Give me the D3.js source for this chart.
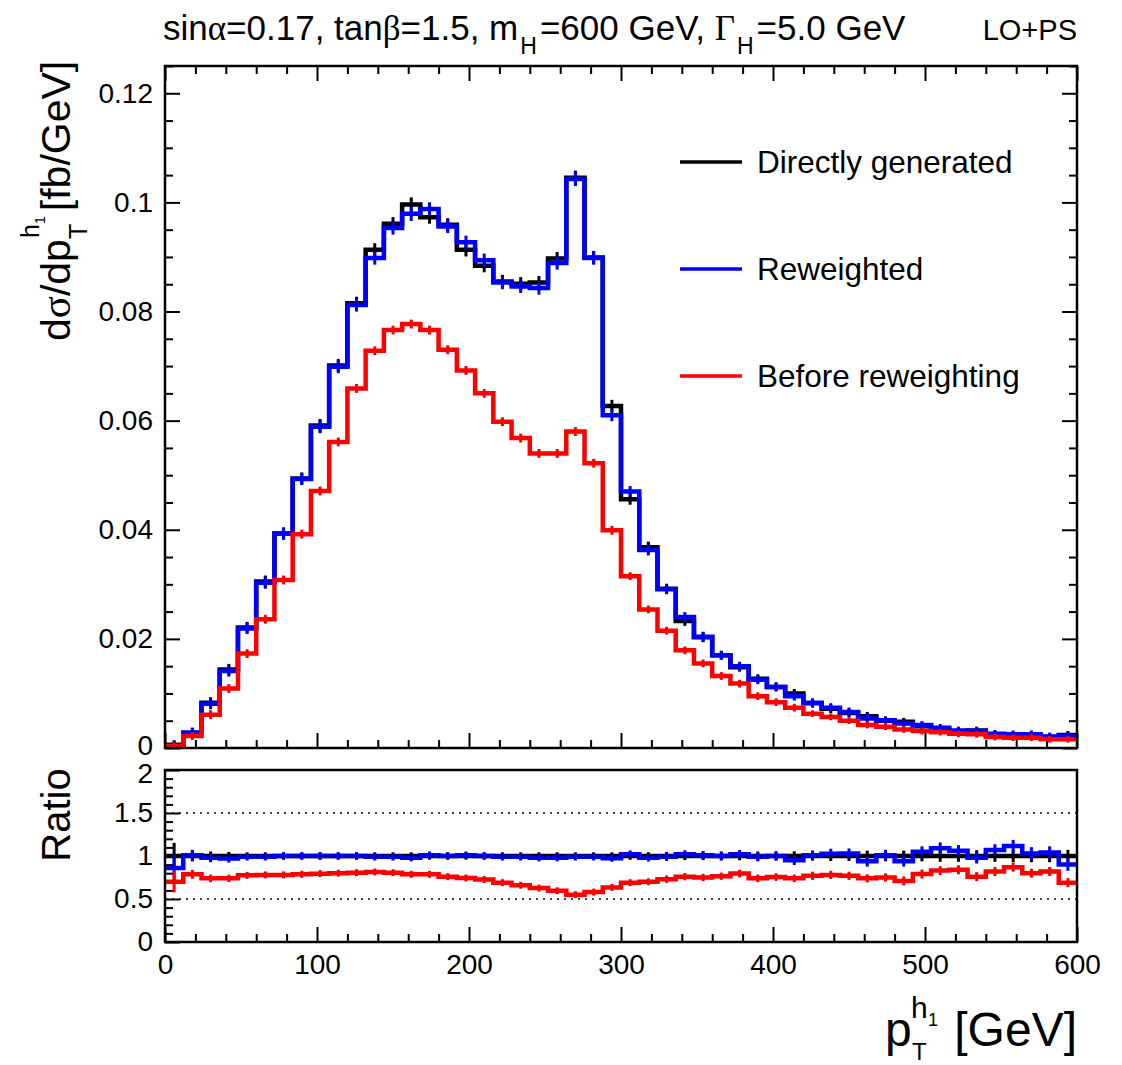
<!DOCTYPE html>
<html>
<head>
<meta charset="utf-8">
<script src="https://cdn.jsdelivr.net/npm/d3@7"></script>
<style>
  html, body { margin: 0; padding: 0; background: #fff; }
  svg { display: block; font-family: "Liberation Sans", Arial, Helvetica, sans-serif; }
</style>
</head>
<body>
<svg id="chart" width="1122" height="1065"></svg>
<script>
// bin edges in GeV (50 bins of 12 GeV)
const binEdges = [0, 12, 24, 36, 48, 60, 72, 84, 96, 108, 120, 132, 144, 156, 168, 180, 192, 204, 216, 228,
  240, 252, 264, 276, 288, 300, 312, 324, 336, 348, 360, 372, 384, 396, 408, 420, 432, 444, 456, 468,
  480, 492, 504, 516, 528, 540, 552, 564, 576, 588, 600];

// dsigma/dpT [fb/GeV]
const directly = [0.0006, 0.0028, 0.0083, 0.0144, 0.0221, 0.0305, 0.0393, 0.0494, 0.0591, 0.0701,
  0.0815, 0.0913, 0.0961, 0.0996, 0.0973, 0.0959, 0.0913, 0.0884, 0.0855, 0.0851,
  0.0853, 0.0897, 0.1045, 0.0899, 0.0627, 0.0456, 0.0368, 0.0292, 0.0233, 0.0203,
  0.0170, 0.0148, 0.0127, 0.0112, 0.0100, 0.0082, 0.0072, 0.0064, 0.0058, 0.0050,
  0.0048, 0.0040, 0.0034, 0.0030, 0.0032, 0.0024, 0.0022, 0.0024, 0.0020, 0.0024];
const reweighted = [0.0005, 0.0028, 0.0081, 0.0141, 0.0219, 0.0303, 0.0393, 0.0493, 0.0589, 0.0699,
  0.0812, 0.0898, 0.0953, 0.0979, 0.0988, 0.0956, 0.0927, 0.0894, 0.0853, 0.0846,
  0.0843, 0.0889, 0.1043, 0.0898, 0.0610, 0.0470, 0.0363, 0.0291, 0.0240, 0.0204,
  0.0170, 0.0150, 0.0125, 0.0112, 0.0095, 0.0083, 0.0074, 0.0066, 0.0054, 0.0051,
  0.0045, 0.0042, 0.0037, 0.0032, 0.0031, 0.0026, 0.0025, 0.0025, 0.0021, 0.0022];
const before = [0.0003, 0.0022, 0.0061, 0.0109, 0.0173, 0.0236, 0.0308, 0.0392, 0.0471, 0.0561,
  0.0659, 0.0728, 0.0766, 0.0777, 0.0766, 0.0730, 0.0692, 0.0650, 0.0598, 0.0568,
  0.0540, 0.0540, 0.0580, 0.0522, 0.0399, 0.0315, 0.0254, 0.0215, 0.0179, 0.0155,
  0.0132, 0.0118, 0.0095, 0.0084, 0.0074, 0.0063, 0.0057, 0.0050, 0.0042, 0.0039,
  0.0034, 0.0031, 0.0029, 0.0026, 0.0025, 0.0020, 0.0019, 0.0019, 0.0016, 0.0016];

// statistical errors (main panel)
const errDirectly = [0.0003, 0.0004, 0.0005, 0.0005, 0.0005, 0.0006, 0.0006, 0.0006, 0.0007, 0.0007,
  0.0007, 0.0007, 0.0007, 0.0008, 0.0007, 0.0007, 0.0007, 0.0007, 0.0007, 0.0007,
  0.0007, 0.0007, 0.0008, 0.0007, 0.0006, 0.0005, 0.0005, 0.0004, 0.0004, 0.0004,
  0.0003, 0.0003, 0.0003, 0.0003, 0.0003, 0.0003, 0.0003, 0.0003, 0.0003, 0.0002,
  0.0002, 0.0002, 0.0002, 0.0002, 0.0002, 0.0002, 0.0002, 0.0002, 0.0002, 0.0002];
const errReweighted = errDirectly.slice();
const errBefore = [0.0002, 0.0002, 0.0003, 0.0003, 0.0003, 0.0003, 0.0003, 0.0003, 0.0003, 0.0003,
  0.0003, 0.0003, 0.0003, 0.0003, 0.0003, 0.0003, 0.0003, 0.0003, 0.0003, 0.0003,
  0.0003, 0.0003, 0.0003, 0.0003, 0.0003, 0.0002, 0.0002, 0.0002, 0.0002, 0.0002,
  0.0002, 0.0002, 0.0002, 0.0002, 0.0002, 0.0001, 0.0001, 0.0001, 0.0001, 0.0001,
  0.0001, 0.0001, 0.0001, 0.0001, 0.0001, 0.0001, 0.0001, 0.0001, 0.0001, 0.0001];

// ratios to "Directly generated"
const ratioDirectly = [1, 1, 1, 1, 1, 1, 1, 1, 1, 1, 1, 1, 1, 1, 1, 1, 1, 1, 1, 1, 1, 1, 1, 1, 1,
  1, 1, 1, 1, 1, 1, 1, 1, 1, 1, 1, 1, 1, 1, 1, 1, 1, 1, 1, 1, 1, 1, 1, 1, 1];
const ratioReweighted = [0.86, 1.01, 0.98, 0.97, 0.99, 0.99, 1.00, 1.00, 1.00, 1.00,
  1.00, 0.99, 0.99, 0.98, 1.01, 1.00, 1.01, 1.00, 0.99, 0.99,
  0.98, 0.98, 0.99, 0.99, 0.975, 1.02, 0.98, 0.99, 1.02, 1.01,
  1.00, 1.02, 0.99, 1.00, 0.95, 1.01, 1.027, 1.03, 0.94, 1.01,
  0.94, 1.05, 1.09, 1.06, 0.98, 1.07, 1.115, 1.03, 1.04, 0.90];
const ratioBefore = [0.70, 0.787, 0.74, 0.74, 0.775, 0.78, 0.78, 0.787, 0.795, 0.80,
  0.806, 0.814, 0.806, 0.787, 0.787, 0.76, 0.745, 0.727, 0.69, 0.66,
  0.627, 0.596, 0.55, 0.58, 0.635, 0.69, 0.70, 0.73, 0.76, 0.75,
  0.765, 0.796, 0.74, 0.755, 0.74, 0.77, 0.78, 0.77, 0.74, 0.75,
  0.71, 0.79, 0.83, 0.84, 0.76, 0.82, 0.87, 0.80, 0.82, 0.69];
const errRatio = [0.12, 0.03, 0.02, 0.015, 0.01, 0.01, 0.01, 0.01, 0.01, 0.01,
  0.01, 0.01, 0.01, 0.01, 0.01, 0.01, 0.01, 0.01, 0.01, 0.01,
  0.01, 0.01, 0.01, 0.01, 0.01, 0.012, 0.012, 0.015, 0.015, 0.015,
  0.018, 0.018, 0.02, 0.02, 0.022, 0.022, 0.025, 0.025, 0.03, 0.03,
  0.03, 0.03, 0.035, 0.035, 0.035, 0.035, 0.04, 0.04, 0.04, 0.04];
const errRatioBefore = [0.09, 0.02, 0.012, 0.01, 0.008, 0.008, 0.008, 0.008, 0.008, 0.008,
  0.008, 0.008, 0.008, 0.008, 0.008, 0.008, 0.008, 0.008, 0.008, 0.008,
  0.008, 0.008, 0.008, 0.008, 0.008, 0.008, 0.008, 0.01, 0.01, 0.01,
  0.01, 0.012, 0.012, 0.012, 0.012, 0.015, 0.015, 0.015, 0.015, 0.015,
  0.02, 0.02, 0.02, 0.02, 0.02, 0.02, 0.02, 0.02, 0.02, 0.02];

// axis ticks
const xMajor = [0, 100, 200, 300, 400, 500, 600];
const yMajor = [0, 0.02, 0.04, 0.06, 0.08, 0.1, 0.12];
const yMajorLabels = ["0", "0.02", "0.04", "0.06", "0.08", "0.1", "0.12"];
const rMajor = [0, 0.5, 1, 1.5, 2];
const rMajorLabels = ["0", "0.5", "1", "1.5", "2"];
const rGrid = [0.5, 1, 1.5];

const series = [
  { name: "Directly generated", color: "#000000", vals: directly, err: errDirectly, ratio: ratioDirectly, rerr: errRatio },
  { name: "Reweighted", color: "#0000ff", vals: reweighted, err: errReweighted, ratio: ratioReweighted, rerr: errRatio },
  { name: "Before reweighting", color: "#ff0000", vals: before, err: errBefore, ratio: ratioBefore, rerr: errRatioBefore }
];

const L = 165, R = 1077;
const mainTop = 66, mainBot = 748, ratTop = 770, ratBot = 942;

const svg = d3.select("#chart");

const x = d3.scaleLinear().domain([0, 600]).range([L, R]);
const y = d3.scaleLinear().domain([0, 0.125]).range([mainBot, mainTop]);
const yr = d3.scaleLinear().domain([0, 2]).range([ratBot, ratTop]);

// clip paths
const defs = svg.append("defs");
defs.append("clipPath").attr("id", "clipMain").append("rect")
  .attr("x", L).attr("y", mainTop).attr("width", R - L).attr("height", mainBot - mainTop);
defs.append("clipPath").attr("id", "clipRatio").append("rect")
  .attr("x", L).attr("y", ratTop).attr("width", R - L).attr("height", ratBot - ratTop);

const majLen = 15, minLen = 8;

function tickAxis(axisFn, scale, values, len, transform, labels) {
  const a = axisFn(scale).tickValues(values).tickSizeInner(-len).tickSizeOuter(0);
  if (labels) a.tickFormat((d, i) => labels[i]).tickPadding(12);
  else a.tickFormat("");
  const g = svg.append("g").attr("transform", transform).call(a);
  g.select(".domain").remove();
  g.selectAll("line").attr("stroke", "#000").attr("stroke-width", 2);
  g.selectAll("text").attr("font-size", 28).attr("fill", "#000")
    .attr("font-family", "'Liberation Sans', Arial, sans-serif");
  return g;
}

const xMinor = d3.range(0, 601, 20).filter(v => v % 100 !== 0);
const yMinor = d3.range(0, 0.1251, 0.005).filter(v => Math.abs(v / 0.02 - Math.round(v / 0.02)) > 1e-6);
const rMinor = d3.range(0, 2.001, 0.1).filter(v => Math.abs(v / 0.5 - Math.round(v / 0.5)) > 1e-6);

// main panel axes
const yl = tickAxis(d3.axisLeft, y, yMajor, majLen, `translate(${L},0)`, yMajorLabels);
yl.selectAll("text").filter(d => d === 0).attr("dy", "0.22em");
tickAxis(d3.axisLeft, y, yMinor, minLen, `translate(${L},0)`);
tickAxis(d3.axisRight, y, yMajor, majLen, `translate(${R},0)`);
tickAxis(d3.axisRight, y, yMinor, minLen, `translate(${R},0)`);
tickAxis(d3.axisBottom, x, xMajor, majLen, `translate(0,${mainBot})`);
tickAxis(d3.axisBottom, x, xMinor, minLen, `translate(0,${mainBot})`);
tickAxis(d3.axisTop, x, xMajor, majLen, `translate(0,${mainTop})`);
tickAxis(d3.axisTop, x, xMinor, minLen, `translate(0,${mainTop})`);

// ratio panel axes
const rl = tickAxis(d3.axisLeft, yr, rMajor, majLen, `translate(${L},0)`, rMajorLabels);
rl.selectAll("text").filter(d => d === 2).attr("dy", "0.45em");
tickAxis(d3.axisLeft, yr, rMinor, minLen, `translate(${L},0)`);
const xr = tickAxis(d3.axisBottom, x, xMajor, majLen, `translate(0,${ratBot})`, xMajor.map(String));
xr.selectAll("text").attr("dy", "0.72em");
tickAxis(d3.axisBottom, x, xMinor, minLen, `translate(0,${ratBot})`);

const stepLine = d3.line().curve(d3.curveStepAfter).x(d => x(d[0]));

function drawHist(g, s, vals, errs, ys) {
  const pts = vals.map((v, i) => [binEdges[i], v]);
  pts.push([binEdges[binEdges.length - 1], vals[vals.length - 1]]);
  g.append("path")
    .attr("d", stepLine.y(d => ys(d[1]))(pts))
    .attr("fill", "none")
    .attr("stroke", s.color)
    .attr("stroke-width", 4.5);
  g.selectAll(null)
    .data(vals)
    .enter()
    .append("line")
    .attr("x1", (d, i) => x((binEdges[i] + binEdges[i + 1]) / 2))
    .attr("x2", (d, i) => x((binEdges[i] + binEdges[i + 1]) / 2))
    .attr("y1", (d, i) => ys(d - errs[i]) + 2.8)
    .attr("y2", (d, i) => ys(d + errs[i]) - 2.8)
    .attr("stroke", s.color)
    .attr("stroke-width", 3);
}

const gMain = svg.append("g").attr("clip-path", "url(#clipMain)");
series.forEach(s => drawHist(gMain, s, s.vals, s.err, y));

const gRatio = svg.append("g").attr("clip-path", "url(#clipRatio)");
series.forEach(s => drawHist(gRatio, s, s.ratio, s.rerr, yr));

// dotted reference lines in ratio panel
gRatio.selectAll(null)
  .data(rGrid)
  .enter()
  .append("line")
  .attr("x1", L).attr("x2", R)
  .attr("y1", d => yr(d)).attr("y2", d => yr(d))
  .attr("stroke", "#000")
  .attr("stroke-width", 1.6)
  .attr("stroke-dasharray", "2,5");

// frames
[[mainTop, mainBot], [ratTop, ratBot]].forEach(([t, b]) => {
  svg.append("rect")
    .attr("x", L).attr("y", t).attr("width", R - L).attr("height", b - t)
    .attr("fill", "none").attr("stroke", "#000").attr("stroke-width", 2.5);
});

// legend
const legY = [162, 269, 376];
series.forEach((s, i) => {
  svg.append("line")
    .attr("x1", 680).attr("x2", 742)
    .attr("y1", legY[i]).attr("y2", legY[i])
    .attr("stroke", s.color).attr("stroke-width", 3.5);
  svg.append("text")
    .attr("x", 757).attr("y", legY[i] + 11)
    .attr("font-size", 31.5)
    .text(s.name);
});

// title
const serif = "'Liberation Serif', 'DejaVu Serif', serif";
const title = svg.append("text").attr("x", 163).attr("y", 40).attr("font-size", 35);
title.append("tspan").text("sin");
title.append("tspan").attr("font-family", serif).text("α");
title.append("tspan").text("=0.17, tan");
title.append("tspan").attr("font-family", serif).text("β");
title.append("tspan").text("=1.5, m");
title.append("tspan").attr("font-size", 23).attr("dx", 2).attr("dy", 14).text("H");
title.append("tspan").attr("dx", 3).attr("dy", -14).text("=600 GeV, ");
title.append("tspan").attr("font-family", serif).text("Γ");
title.append("tspan").attr("font-size", 23).attr("dx", 2).attr("dy", 14).text("H");
title.append("tspan").attr("dx", 3).attr("dy", -14).text("=5.0 GeV");

svg.append("text")
  .attr("x", R).attr("y", 40)
  .attr("text-anchor", "end")
  .attr("font-size", 29)
  .text("LO+PS");

// y axis title (rotated)
const yt = svg.append("g").attr("transform", "translate(70,341) rotate(-90)");
const t1 = yt.append("text").attr("x", 0).attr("y", 0).attr("font-size", 41);
t1.append("tspan").text("d");
t1.append("tspan").attr("font-family", serif).text("σ");
t1.append("tspan").text("/dp");
const w1 = t1.node().getComputedTextLength();
yt.append("text").attr("x", w1).attr("y", 17).attr("font-size", 25).text("T");
const hs = yt.append("text").attr("x", w1 + 1).attr("y", -31).attr("font-size", 25).text("h");
const wh = hs.node().getComputedTextLength();
yt.append("text").attr("x", w1 + 1 + wh).attr("y", -25).attr("font-size", 15).text("1");
yt.append("text").attr("x", w1 + wh + 14).attr("y", 0).attr("font-size", 41).text("[fb/GeV]");

// ratio axis title
svg.append("text")
  .attr("transform", "translate(70,815) rotate(-90)")
  .attr("text-anchor", "middle")
  .attr("font-size", 40)
  .text("Ratio");

// x axis title
svg.append("text").attr("x", 885).attr("y", 1046).attr("font-size", 48).text("p");
svg.append("text").attr("x", 912).attr("y", 1060).attr("font-size", 24).text("T");
svg.append("text").attr("x", 911).attr("y", 1018).attr("font-size", 30).text("h");
svg.append("text").attr("x", 928).attr("y", 1026).attr("font-size", 18).text("1");
svg.append("text").attr("x", R).attr("y", 1046).attr("text-anchor", "end").attr("font-size", 48).text("[GeV]");
</script>
</body>
</html>
